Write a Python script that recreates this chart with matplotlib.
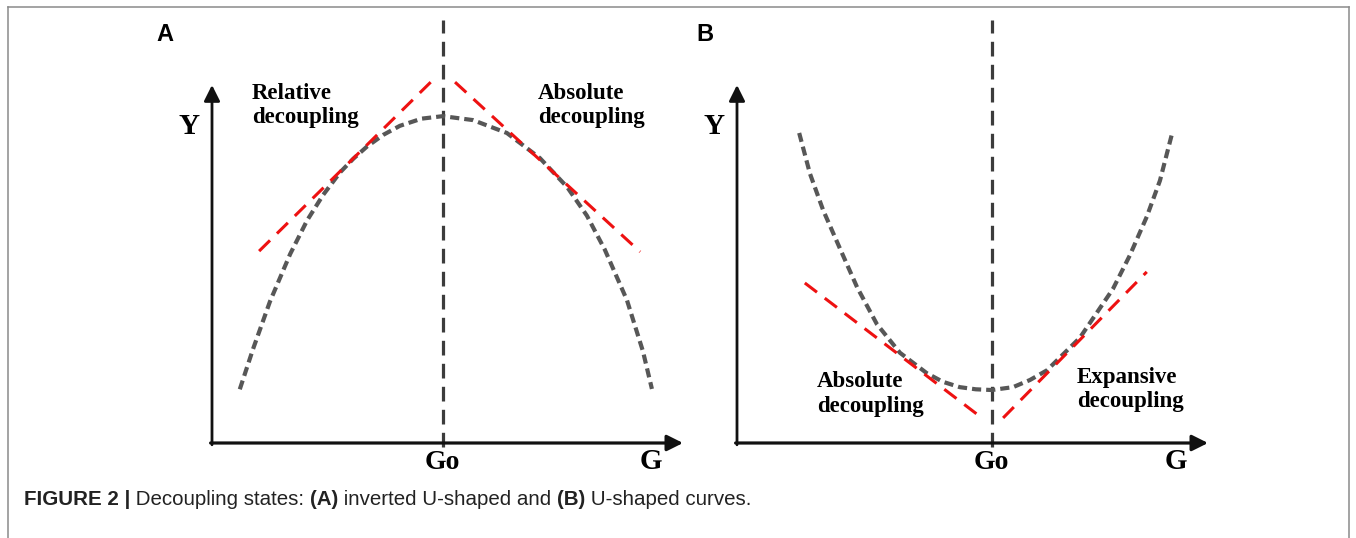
#!/usr/bin/env python3
# Decoupling states: inverted U-shaped (A) and U-shaped (B) curves

import matplotlib
matplotlib.use("Agg")
import matplotlib.pyplot as plt
from matplotlib.lines import Line2D

# ---- data (G on 0..10, Y on 0..10) ----
go_a = 4.90
go_b = 5.41

curve_a_g = [0.59, 0.87, 1.23, 1.66, 2.02, 2.36, 2.72, 3.00, 3.29, 3.64,
             3.99, 4.45, 4.90, 5.54, 6.26, 6.96, 7.54, 7.96, 8.34, 8.81,
             9.15, 9.34]
curve_a_y = [1.50, 2.62, 3.95, 5.28, 6.22, 6.93, 7.56, 7.94, 8.28, 8.61,
             8.86, 9.06, 9.13, 9.02, 8.66, 7.96, 7.15, 6.35, 5.40, 3.99,
             2.56, 1.51]
tangent_a_left_g = [1.00, 4.69]
tangent_a_left_y = [5.36, 10.14]
tangent_a_right_g = [5.16, 9.09]
tangent_a_right_y = [10.08, 5.34]

curve_b_g = [1.32, 1.55, 1.83, 2.19, 2.55, 2.97, 3.46, 4.03, 4.37, 4.73,
             5.07, 5.41, 5.86, 6.22, 6.58, 7.28, 7.98, 8.34, 8.70, 8.98,
             9.24]
curve_b_y = [8.66, 7.52, 6.50, 5.42, 4.35, 3.32, 2.52, 1.95, 1.71, 1.56,
             1.50, 1.48, 1.56, 1.76, 2.03, 2.94, 4.30, 5.24, 6.32, 7.33,
             8.66]
tangent_b_left_g = [1.44, 5.20]
tangent_b_left_y = [4.47, 0.70]
tangent_b_right_g = [5.65, 8.70]
tangent_b_right_y = [0.70, 4.78]

W, H = 1356, 538
fig = plt.figure(figsize=(W / 100, H / 100), dpi=100)
fig.patch.set_facecolor("white")

# thin frame around the figure (open at the bottom)
frame = dict(color="#8a8a8a", lw=1.1, transform=fig.transFigure)
fig.add_artist(Line2D([8 / W, 8 / W], [0, 1 - 7 / H], **frame))
fig.add_artist(Line2D([8 / W, 1349 / W], [1 - 7 / H, 1 - 7 / H], **frame))
fig.add_artist(Line2D([1349 / W, 1349 / W], [0, 1 - 7 / H], **frame))

SERIF = "Liberation Serif"
GRAY = "#575757"
VGRAY = "#3c3c3c"
RED = "#ee1111"


def panel(left_px, letter, letter_x, go, cg, cy, tl, tr, labels):
    ax = fig.add_axes([left_px / W, (H - 443) / H, 471 / W, 358 / H])
    ax.set_xlim(0, 10)
    ax.set_ylim(0, 10)
    ax.axis("off")

    # axes with arrows
    ax.annotate("", xy=(10, 0), xytext=(-0.03, 0), annotation_clip=False,
                arrowprops=dict(arrowstyle="-|>", color="#111111", lw=2.3,
                                mutation_scale=24, shrinkA=0, shrinkB=0))
    ax.annotate("", xy=(0, 10), xytext=(0, -0.05), annotation_clip=False,
                arrowprops=dict(arrowstyle="-|>", color="#111111", lw=2.0,
                                mutation_scale=24, shrinkA=0, shrinkB=0))

    # vertical Go line
    ax.plot([go, go], [-0.1, 11.82], color=VGRAY, lw=2.3,
            dashes=(4.6, 2.6), clip_on=False)

    # curve
    ax.plot(cg, cy, color=GRAY, lw=3.0, dashes=(2.2, 1.2),
            solid_joinstyle="round", clip_on=False)

    # tangents
    for g, y in (tl, tr):
        ax.plot(g, y, color=RED, lw=2.2, dashes=(5.0, 3.2), clip_on=False)

    # texts
    ax.text(letter_x, 11.42, letter, fontsize=17, fontweight="bold",
            family="Liberation Sans", ha="center", va="center")
    ax.text(-0.49, 8.83, "Y", fontsize=21, fontweight="bold", family=SERIF,
            ha="center", va="center")
    ax.text(go, -0.55, "Go", fontsize=20, fontweight="bold", family=SERIF,
            ha="center", va="center")
    ax.text(9.32, -0.53, "G", fontsize=21, fontweight="bold", family=SERIF,
            ha="center", va="center")
    for x, y, s in labels:
        ax.text(x, y, s, fontsize=16.5, fontweight="bold", family=SERIF,
                ha="left", va="top", linespacing=1.2)
    return ax


panel(212, "A", -1.0, go_a, curve_a_g, curve_a_y,
      (tangent_a_left_g, tangent_a_left_y),
      (tangent_a_right_g, tangent_a_right_y),
      [(0.85, 10.05, "Relative\ndecoupling"),
       (6.92, 10.05, "Absolute\ndecoupling")])

panel(737, "B", -0.68, go_b, curve_b_g, curve_b_y,
      (tangent_b_left_g, tangent_b_left_y),
      (tangent_b_right_g, tangent_b_right_y),
      [(1.70, 2.00, "Absolute\ndecoupling"),
       (7.22, 2.13, "Expansive\ndecoupling")])

# caption, mixed bold / regular
parts = [("FIGURE 2 |", "bold"), (" Decoupling states: ", "normal"),
         ("(A)", "bold"), (" inverted U-shaped and ", "normal"),
         ("(B)", "bold"), (" U-shaped curves.", "normal")]
fig.canvas.draw()
r = fig.canvas.get_renderer()
x0 = 24 / W
for s, w in parts:
    t = fig.text(x0, 33 / H, s, fontsize=14.8, fontweight=w,
                 family="Liberation Sans", ha="left", va="baseline",
                 color="#222222")
    x0 = t.get_window_extent(r).x1 / W

fig.savefig("out.png", dpi=100)
